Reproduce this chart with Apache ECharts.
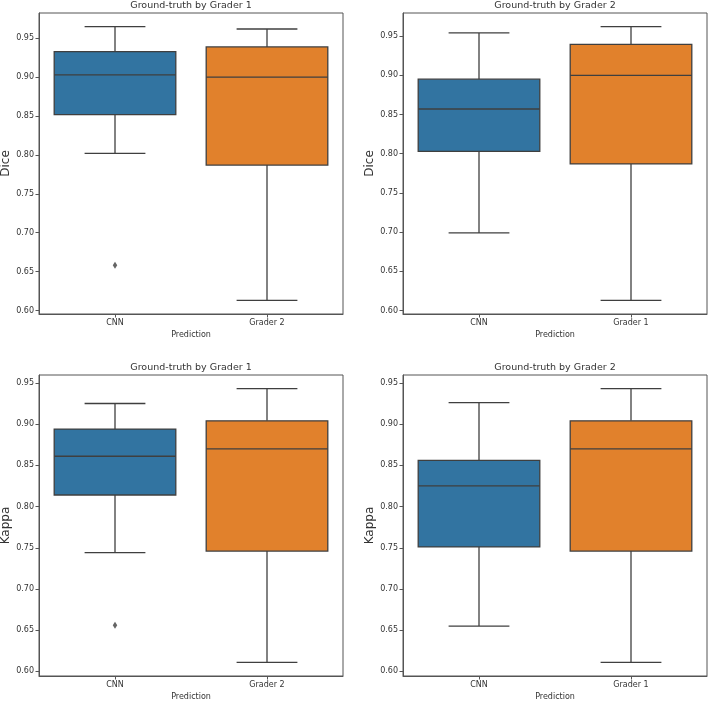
<!DOCTYPE html>
<html>
<head>
<meta charset="utf-8">
<script src="https://cdn.jsdelivr.net/npm/echarts@6/dist/echarts.min.js"></script>
<style>
html,body{margin:0;padding:0;background:#fff;}
#chart{width:708px;height:701px;}
</style>
</head>
<body>
<div id="chart"></div>
<script>
// ---- Data (box stats: [lower whisker, Q1, median, Q3, upper whisker]) ----
const panelTitles = ['Ground-truth by Grader 1', 'Ground-truth by Grader 2', 'Ground-truth by Grader 1', 'Ground-truth by Grader 2'];
const yNames = ['Dice', 'Dice', 'Kappa', 'Kappa'];
const catsG1 = ['CNN', 'Grader 2'];
const catsG2 = ['CNN', 'Grader 1'];

const diceByG1CNN     = [0.802, 0.852, 0.903, 0.933, 0.965];
const diceByG1Grader2 = [0.613, 0.787, 0.900, 0.939, 0.962];
const diceByG1Outliers = [0.658];           // CNN
const diceByG2CNN     = [0.699, 0.803, 0.857, 0.895, 0.954];
const diceByG2Grader1 = [0.613, 0.787, 0.900, 0.9395, 0.962];
const diceByG2Outliers = [];
const kappaByG1CNN     = [0.744, 0.814, 0.861, 0.894, 0.925];
const kappaByG1Grader2 = [0.611, 0.746, 0.870, 0.904, 0.943];
const kappaByG1Outliers = [0.656];          // CNN
const kappaByG2CNN     = [0.655, 0.751, 0.825, 0.856, 0.926];
const kappaByG2Grader1 = [0.611, 0.746, 0.870, 0.904, 0.943];
const kappaByG2Outliers = [];

const yTickValues = [0.60, 0.65, 0.70, 0.75, 0.80, 0.85, 0.90, 0.95];

// ---- Styling ----
const boxColors = ['#3274a1', '#e1812c'];
const lineColor = '#3f3f3f';
const textColor = '#333333';
const FONT = 'DejaVu Sans';

const panels = [
  { cats: catsG1, boxes: [diceByG1CNN, diceByG1Grader2], outliers: diceByG1Outliers },
  { cats: catsG2, boxes: [diceByG2CNN, diceByG2Grader1], outliers: diceByG2Outliers },
  { cats: catsG1, boxes: [kappaByG1CNN, kappaByG1Grader2], outliers: kappaByG1Outliers },
  { cats: catsG2, boxes: [kappaByG2CNN, kappaByG2Grader1], outliers: kappaByG2Outliers }
];

const gridPos = [
  { left: 39, top: 13, width: 304, height: 301 },
  { left: 403, top: 13, width: 304, height: 301 },
  { left: 39, top: 375, width: 304, height: 301 },
  { left: 403, top: 375, width: 304, height: 301 }
];

function yRange(p) {
  let vals = [];
  p.boxes.forEach(b => { vals.push(b[0], b[4]); });
  vals = vals.concat(p.outliers);
  const lo = Math.min(...vals), hi = Math.max(...vals);
  const pad = (hi - lo) * 0.05;
  return [lo - pad, hi + pad];
}

function renderBox(params, api) {
  const x = api.value(0);
  const mn = api.value(1), q1 = api.value(2), md = api.value(3), q3 = api.value(4), mx = api.value(5);
  const band = api.size([1, 0])[0];
  const bw = band * 0.8, cw = bw / 2;
  const c = api.coord([x, md]);
  const cx = c[0];
  const yMin = api.coord([x, mn])[1];
  const yQ1 = api.coord([x, q1])[1];
  const yMd = c[1];
  const yQ3 = api.coord([x, q3])[1];
  const yMax = api.coord([x, mx])[1];
  const ls = { stroke: lineColor, lineWidth: 1.3 };
  return {
    type: 'group',
    children: [
      { type: 'line', shape: { x1: cx, y1: yQ1, x2: cx, y2: yMin }, style: ls },
      { type: 'line', shape: { x1: cx, y1: yQ3, x2: cx, y2: yMax }, style: ls },
      { type: 'line', shape: { x1: cx - cw / 2, y1: yMin, x2: cx + cw / 2, y2: yMin }, style: ls },
      { type: 'line', shape: { x1: cx - cw / 2, y1: yMax, x2: cx + cw / 2, y2: yMax }, style: ls },
      { type: 'rect', shape: { x: cx - bw / 2, y: yQ3, width: bw, height: yQ1 - yQ3 },
        style: { fill: boxColors[params.dataIndex], stroke: lineColor, lineWidth: 1.3 } },
      { type: 'line', shape: { x1: cx - bw / 2, y1: yMd, x2: cx + bw / 2, y2: yMd }, style: ls }
    ]
  };
}

const option = {
  animation: false,
  backgroundColor: '#fff',
  title: panels.map((p, i) => ({
    text: panelTitles[i],
    left: gridPos[i].left + gridPos[i].width / 2,
    top: gridPos[i].top - 12,
    textAlign: 'center',
    textStyle: { fontFamily: FONT, fontSize: 9.5, fontWeight: 'normal', color: textColor },
    padding: 0
  })),
  grid: gridPos.map(g => Object.assign({ show: true, borderColor: '#555', borderWidth: 1, containLabel: false, outerBoundsMode: 'none' }, g)),
  xAxis: panels.map((p, i) => ({
    type: 'category',
    gridIndex: i,
    data: p.cats,
    boundaryGap: true,
    name: 'Prediction',
    nameLocation: 'middle',
    nameGap: 17,
    nameTextStyle: { fontFamily: FONT, fontSize: 8, color: textColor },
    axisLine: { show: true, lineStyle: { color: '#555', width: 1 } },
    axisTick: { show: true, alignWithLabel: true, length: 3.5, lineStyle: { color: '#555' } },
    axisLabel: { fontFamily: FONT, fontSize: 8, color: textColor, margin: 5 },
    splitLine: { show: false }
  })),
  yAxis: panels.map((p, i) => {
    const r = yRange(p);
    return {
      type: 'value',
      gridIndex: i,
      min: r[0],
      max: r[1],
      name: yNames[i],
      nameLocation: 'middle',
      nameGap: 24.5,
      nameRotate: 90,
      nameTextStyle: { fontFamily: FONT, fontSize: 12, color: textColor },
      axisLine: { show: true, lineStyle: { color: '#555', width: 1 } },
      axisTick: { show: true, length: 3.5, lineStyle: { color: '#555' }, customValues: yTickValues },
      axisLabel: { fontFamily: FONT, fontSize: 8, color: textColor, margin: 5,
        customValues: yTickValues, formatter: v => Number(v).toFixed(2) },
      splitLine: { show: false }
    };
  }),
  series: []
};

panels.forEach((p, i) => {
  option.series.push({
    type: 'custom',
    xAxisIndex: i,
    yAxisIndex: i,
    renderItem: renderBox,
    encode: { x: 0, y: [1, 2, 3, 4, 5] },
    data: p.boxes.map((b, k) => [k].concat(b)),
    z: 2
  });
  if (p.outliers.length) {
    option.series.push({
      type: 'scatter',
      xAxisIndex: i,
      yAxisIndex: i,
      symbol: 'diamond',
      symbolSize: [4.5, 7],
      itemStyle: { color: lineColor },
      data: p.outliers.map(v => [0, v]),
      z: 3
    });
  }
});

const chart = echarts.init(document.getElementById('chart'), null, { renderer: 'canvas' });
chart.setOption(option);
</script>
</body>
</html>
